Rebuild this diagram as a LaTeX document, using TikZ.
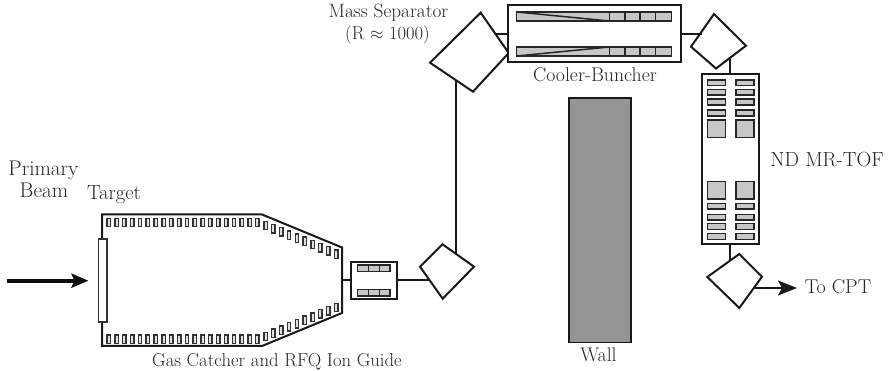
\documentclass[tikz,border=0pt]{standalone}
\usetikzlibrary{arrows.meta}
\tikzset{
  thickline/.style={line width=2pt,draw=black!90,line join=miter},
  cell/.style={draw=black!85,line width=1.5pt,fill=black!22},
  hollow/.style={draw=black!80,line width=1.4pt,fill=black!12},
  lab/.style={inner sep=0pt,anchor=base,font=\fontsize{#1}{22}\selectfont,text=black!85}
}
\begin{document}
\begin{tikzpicture}[x=1pt,y=-1pt]
\useasboundingbox (0,0) rectangle (892,371);
% Gas catcher
\draw[thickline] (102,239) -- (102,214.5) -- (262,214.5) -- (342,247.5) -- (342,313) -- (262,346) -- (102,346) -- (102,322);
\foreach \i in {0,...,19} {
  \pgfmathsetmacro\xx{107+7.83*\i}
  \draw[hollow] (\xx,218.3) rectangle ++(3.4,8.4);
  \draw[hollow] (\xx,335) rectangle ++(3.4,8.4);
}
\foreach \i in {0,...,9} {
  \pgfmathsetmacro\xx{263.8+7.85*\i}
  \pgfmathsetmacro\yy{221.3+3.17*\i}
  \pgfmathsetmacro\yb{332.3-3.22*\i}
  \draw[hollow] (\xx,\yy) rectangle ++(3.4,8.4);
  \draw[hollow] (\xx,\yb) rectangle ++(3.4,8.4);
}
\node[draw=black!80,line width=1.4pt,fill=white,minimum width=8.5pt,minimum height=83pt,inner sep=0pt] (target) at (102.8,280.5) {};
\coordinate (gasout) at (342,280);
% RFQ box
\node[thickline,draw,fill=white,minimum width=45.5pt,minimum height=37pt,inner sep=0pt] (rfq) at (374,280.5) {};
\foreach \yy in {265,289.5} {
  \draw[cell] (357.5,\yy) rectangle (390,\yy+6.5);
  \draw[cell,fill=none] (368.3,\yy) -- (368.3,\yy+6.5) (379.3,\yy) -- (379.3,\yy+6.5);
}
\draw[thickline] (gasout) -- (rfq.west |- gasout);
% Bender 1
\coordinate (d1l) at (420,266.7); \coordinate (d1t) at (442.5,244.3); \coordinate (d1r) at (474,266.7); \coordinate (d1b) at (442.7,298.7);
\draw[thickline] (d1l) -- (d1t) -- (d1r) -- (d1b) -- cycle;
\coordinate (d1in) at (429.4,280);
\coordinate (d1up) at (456,253.5);
\draw[thickline] (rfq.east |- d1in) -- (d1in);
% Mass separator
\coordinate (d2l) at (430,62.7); \coordinate (d2t) at (480.7,12.7); \coordinate (d2r) at (508.7,53); \coordinate (d2b) at (473,91.7);
\draw[thickline] (d2l) -- (d2t) -- (d2r) -- (d2b) -- cycle;
\coordinate (d2in) at (456,80.5);
\draw[thickline] (d1up) -- (d2in);
% Cooler
\node[thickline,draw,fill=white,minimum width=172.7pt,minimum height=57.3pt,inner sep=0pt] (cooler) at (594.7,33.7) {};
\coordinate (d2out) at (495,34);
\draw[thickline] (d2out) -- (cooler.west |- d2out);
\draw[cell] (516.7,12) rectangle (671.7,21);
\draw[cell] (516.7,47) rectangle (671.7,56);
\draw[cell,fill=none] (516.7,12) -- (609.3,21) (516.7,56) -- (609.3,47);
\foreach \xx in {609.3,625,640,655.7} {
  \draw[cell,fill=none] (\xx,12) -- (\xx,21) (\xx,47) -- (\xx,56);
}
% Bender 3
\coordinate (d3l) at (691,46.7); \coordinate (d3t) at (714,14); \coordinate (d3r) at (746,45.7); \coordinate (d3b) at (716,68.5);
\draw[thickline] (d3l) -- (d3t) -- (d3r) -- (d3b) -- cycle;
\coordinate (d3in) at (702,34);
\draw[thickline] (cooler.east |- d3in) -- (d3in);
% MR-TOF
\node[thickline,draw,fill=white,minimum width=57pt,minimum height=169.7pt,inner sep=0pt] (tof) at (730.5,159.2) {};
\coordinate (d3out) at (730,57.5);
\draw[thickline] (d3out) -- (d3out |- tof.north);
\foreach \ya/\yb in {80/85.3,89.3/95,99/105,110/116,203.3/209,214.3/220,223.7/229.3,233.7/239.3,120/137.7,181.7/199} {
  \draw[cell] (707.7,\ya) rectangle (725.7,\yb);
  \draw[cell] (736,\ya) rectangle (754,\yb);
}
% Bender 4
\coordinate (d4l) at (707.3,277); \coordinate (d4t) at (739.3,254); \coordinate (d4r) at (762,276.7); \coordinate (d4b) at (739.3,308);
\draw[thickline] (d4l) -- (d4t) -- (d4r) -- (d4b) -- cycle;
\coordinate (d4in) at (730,260.5);
\draw[thickline] (tof.south -| d4in) -- (d4in);
\coordinate (d4out) at (753,288);
\coordinate (cptin) at (797,288);
\draw[thickline,-{Stealth[length=19pt,width=15pt,inset=4pt]}] (d4out) -- (cptin);
% Wall
\node[draw=black!90,line width=1.6pt,fill=black!42,minimum width=62pt,minimum height=244.5pt,inner sep=0pt] (wall) at (599.7,220.3) {};
% Beam
\coordinate (beamstart) at (7,280.7);
\coordinate (beamend) at (88.5,280.7);
\draw[line width=4pt,draw=black!95,-{Stealth[length=17pt,width=14pt,inset=3pt]}] (beamstart) -- (beamend);
% Labels
\node[lab=21.2] (l1) at (43.5,176) {Primary};
\node[lab=21.2] (l2) at (44,198) {Beam};
\node[lab=20.5] (l3) at (114,200) {Target};
\node[lab=18.7] (l4) at (277,366.7) {Gas Catcher and RFQ Ion Guide};
\node[lab=19.3] (l5) at (388.5,18) {Mass Separator};
\node[lab=18.6] (l6) at (387.5,40) {(R $\approx$ 1000)};
\node[lab=19.8] (l8) at (595,82) {Cooler-Buncher};
\node[lab=19.7] (l9) at (598.5,362) {Wall};
\node[lab=20.5] (l10) at (827,167) {ND MR-TOF};
\node[lab=20] (l11) at (838,293.5) {To CPT};
\end{tikzpicture}
\end{document}
